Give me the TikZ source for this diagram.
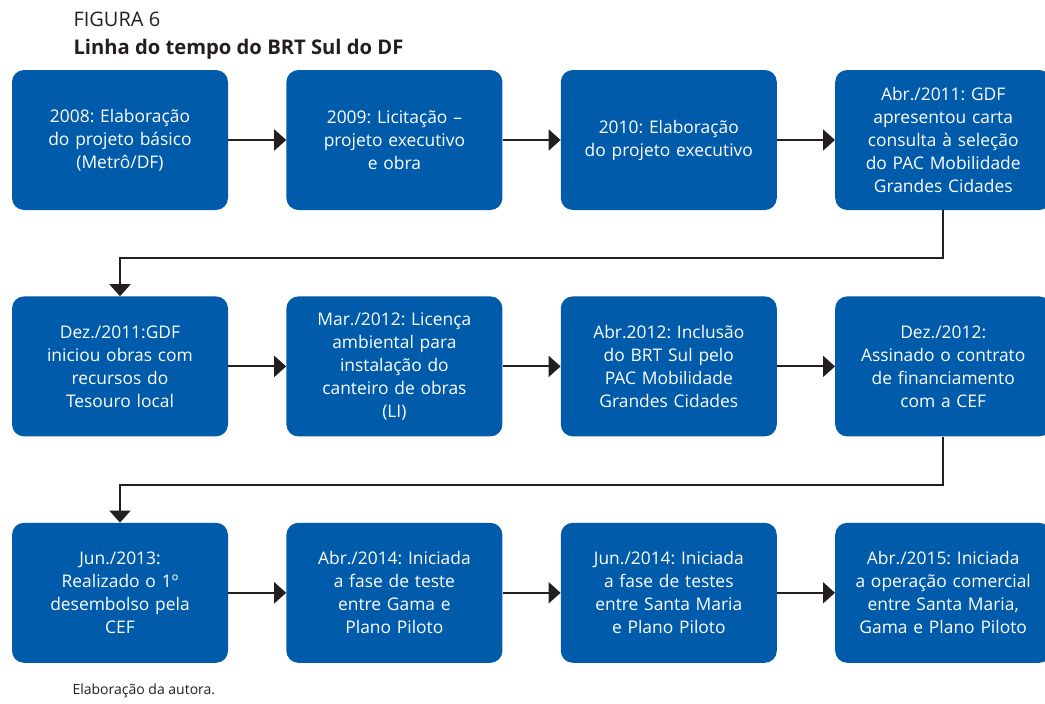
\documentclass[tikz,border=0pt]{standalone}
\usepackage{fontspec}
\setmainfont{Open Sans}
\frenchspacing
\usetikzlibrary{positioning, arrows.meta}
\definecolor{boxblue}{RGB}{0,91,170}
\definecolor{arrowblack}{RGB}{35,31,32}

\begin{document}
\begin{tikzpicture}[
					x=1pt, y=-1pt,
					>={Triangle[width=21pt, length=12pt]},
					% Define styles for the blocks
					block/.style={
						fill=boxblue,
						text=white,
						minimum width=216pt,
						minimum height=140pt,
						text width=206pt,
						inner sep=0pt,
						align=center,
						rounded corners=12pt,
						font=\fontsize{17.4}{23}\selectfont
					},
					link/.style={
						->,
						draw=arrowblack,
						line width=2pt
					},
					title_text/.style={
						anchor=base west,
						text=arrowblack
					}
					]
					\useasboundingbox (0,0) rectangle (1045,704);
					
					% --- 1. TITLE ---
					\node[title_text, font=\fontsize{20}{24}\selectfont] (fig_num) at (70,27) {FIGURA 6};
					\node[title_text, font=\fontsize{20.2}{24}\selectfont\bfseries] (fig_title) at (70,54) {Linha do tempo do BRT Sul do DF};
					
					% --- 2. FIRST ROW ---
					\node[block] (y2008) at (120,140) {2008: Elaboração\\do projeto básico\\(Metrô/DF)};
					\node[block, right=58pt of y2008] (y2009) {2009: Licitação --\\projeto executivo\\e obra};
					\node[block, right=58pt of y2009] (y2010) {2010: Elaboração\\do projeto executivo};
					\node[block, right=58pt of y2010] (abr2011) {Abr./2011: GDF\\apresentou carta\\consulta à seleção\\do PAC Mobilidade\\Grandes Cidades};
					\draw[link] (y2008) -- (y2009);
					\draw[link] (y2009) -- (y2010);
					\draw[link] (y2010) -- (abr2011);
					
					% --- 3. SECOND ROW ---
					\node[block, below=86pt of y2008] (dez2011) {Dez./2011:GDF\\iniciou obras com\\recursos do\\Tesouro local};
					\node[block, right=58pt of dez2011] (mar2012) {Mar./2012: Licença\\ambiental para\\instalação do\\canteiro de obras\\(LI)};
					\node[block, right=58pt of mar2012] (abr2012) {Abr.2012: Inclusão\\do BRT Sul pelo\\PAC Mobilidade\\Grandes Cidades};
					\node[block, right=58pt of abr2012] (dez2012) {Dez./2012:\\Assinado o contrato\\de financiamento\\com a CEF};
					\draw[link] (abr2011.south) -- ++(0,48) -| (dez2011.north);
					\draw[link] (dez2011) -- (mar2012);
					\draw[link] (mar2012) -- (abr2012);
					\draw[link] (abr2012) -- (dez2012);
					
					% --- 4. THIRD ROW ---
					\node[block, below=86pt of dez2011] (jun2013) {Jun./2013:\\Realizado o 1º\\desembolso pela\\CEF};
					\node[block, right=58pt of jun2013] (abr2014) {Abr./2014: Iniciada\\a fase de teste\\entre Gama e\\Plano Piloto};
					\node[block, right=58pt of abr2014] (jun2014) {Jun./2014: Iniciada\\a fase de testes\\entre Santa Maria\\e Plano Piloto};
					\node[block, right=58pt of jun2014] (abr2015) {Abr./2015: Iniciada\\a operação comercial\\entre Santa Maria,\\Gama e Plano Piloto};
					\draw[link] (dez2012.south) -- ++(0,48) -| (jun2013.north);
					\draw[link] (jun2013) -- (abr2014);
					\draw[link] (abr2014) -- (jun2014);
					\draw[link] (jun2014) -- (abr2015);
					
					% --- 5. SOURCE ---
					\node[title_text, font=\fontsize{14}{17}\selectfont] (source) at (69,694) {Elaboração da autora.};
					
				\end{tikzpicture}
\end{document}
